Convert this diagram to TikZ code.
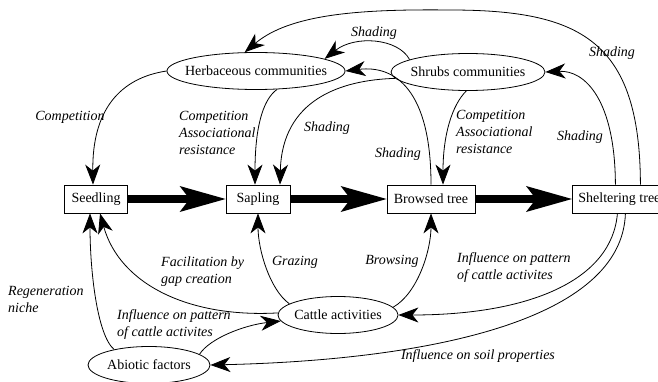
\documentclass[tikz,border=0pt]{standalone}
\usepackage{fontspec}
\setmainfont{Liberation Serif}
\usepackage{tikz}
\usetikzlibrary{arrows.meta,shapes.geometric}

\begin{document}
\begin{tikzpicture}[x=1pt, y=-1pt, font=\fontsize{14pt}{17pt}\selectfont,
  stage/.style={draw, line width=0.8pt, inner xsep=6pt, minimum height=28pt},
  oval/.style={ellipse, draw, line width=0.8pt, inner xsep=-8pt, inner ysep=0pt, minimum height=37pt},
  link/.style={line width=0.8pt, -{Stealth[length=20pt, width=15pt, inset=6pt]}},
  growth/.style={line width=8pt, -{Stealth[length=46pt, width=26pt, inset=10pt, line width=0pt]}},
  lbl/.style={font=\fontsize{14pt}{17pt}\selectfont\itshape, align=left, inner sep=0pt}]
\useasboundingbox (0,0) rectangle (658,382);

\node[stage, minimum width=63pt] (seed) at (96,199) {Seedling};
\node[stage, minimum width=64pt] (sap) at (258,199) {Sapling};
\node[stage, minimum width=88pt] (brow) at (431,199) {Browsed tree};
\node[stage, anchor=west] (shel) at (572,199) {Sheltering tree};

\node[oval, minimum width=178pt] (herb) at (256,71) {Herbaceous communities};
\node[oval, minimum width=154pt] (shrub) at (468,72) {Shrubs communities};
\node[oval, minimum width=120pt] (cattle) at (338,315) {Cattle activities};
\node[oval, minimum width=122pt] (abio) at (149,365) {Abiotic factors};

\draw[growth] (seed.east) -- (sap.west);
\draw[growth] (sap.east) -- (brow.west);
\draw[growth] (brow.east) -- (shel.west);

\draw[link] ([xshift=21pt]shel.north) .. controls (640,40) and (580,10) .. (450,10)
  .. controls (360,9) and (290,14) .. (herb.121);
\draw[link] (shrub.168) .. controls (398,38) and (355,35) .. (herb.10);
\draw[link] ([xshift=-4pt]shel.north) .. controls (615,100) and (585,70) .. (shrub.east);
\draw[link] (brow.north) .. controls (431,90) and (395,65) .. (herb.east);
\draw[link] (shrub.185) .. controls (340,80) and (282,100) .. ([xshift=22pt]sap.north);
\draw[link] (herb.319) .. controls (262,100) and (255,130) .. ([xshift=-3pt]sap.north);
\draw[link] (herb.west) .. controls (120,78) and (92,110) .. ([xshift=-3pt]seed.north);
\draw[link] (shrub.265) .. controls (452,105) and (443,135) .. ([xshift=12pt]brow.north);
\draw[link] ([xshift=-2pt]shel.south) .. controls (612,280) and (530,315) .. (cattle.east);
\draw[link] ([xshift=6pt]shel.south) .. controls (622,320) and (430,360) .. (abio.east);
\draw[link] (cattle.8) .. controls (418,293) and (431,250) .. (brow.south);
\draw[link] (cattle.167) .. controls (270,290) and (258,250) .. (sap.south);
\draw[link] (cattle.178) .. controls (190,318) and (120,285) .. ([xshift=4pt]seed.south);
\draw[link] (abio.156) .. controls (97,335) and (90,270) .. ([xshift=-6pt]seed.south);
\draw[link] (abio.12) .. controls (210,338) and (245,325) .. (cattle.186);

\node[lbl] (shTop) at (612,53) {Shading};
\node[lbl] (shMid) at (374,33) {Shading};
\node[lbl] (shShel) at (580,137) {Shading};
\node[lbl] (shBrow) at (398,154) {Shading};
\node[lbl] (shSap) at (327,128) {Shading};
\node[lbl] (compSeed) at (70,117) {Competition};
\node[lbl, anchor=west] (compSap) at (179,133) {Competition\\Associational\\resistance};
\node[lbl, anchor=west] (compBrow) at (456,132) {Competition\\Associational\\resistance};
\node[lbl, anchor=west] (regen) at (8,299) {Regeneration\\niche};
\node[lbl, anchor=west] (facil) at (161,272) {Facilitation by\\gap creation};
\node[lbl] (graze) at (295,262) {Grazing};
\node[lbl] (browse) at (392,261) {Browsing};
\node[lbl, anchor=west] (inflR) at (457,268) {Influence on pattern\\of cattle activites};
\node[lbl, anchor=west] (inflL) at (117,325) {Influence on pattern\\of cattle activites};
\node[lbl] (soil) at (478,356) {Influence on soil properties};
\end{tikzpicture}
\end{document}
